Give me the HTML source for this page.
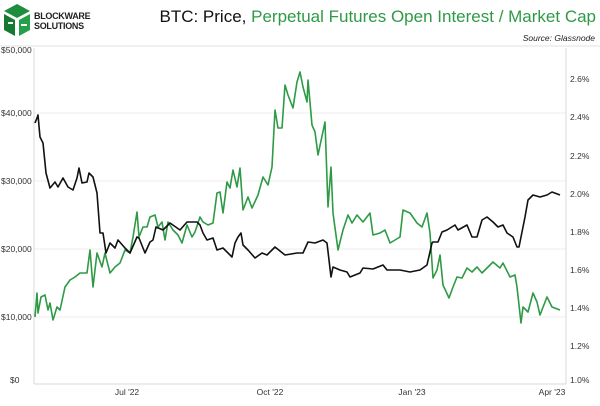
<!DOCTYPE html>
<html><head><style>
body{margin:0;width:600px;height:401px;background:#fff;overflow:hidden;font-family:"Liberation Sans",sans-serif}
</style></head><body>
<svg width="600" height="401" viewBox="0 0 600 401" xmlns="http://www.w3.org/2000/svg">
<g fill="#1e8e3e">
<polygon points="17,4 30,11 17,18 4,11"/>
<polygon points="4,14 15,20 15,36 4,30" fill="#157a31"/>
<polygon points="30,14 19,20 19,36 30,30" fill="#24a148"/>
</g>
<g fill="#fff"><rect x="8" y="22" width="5" height="2"/><rect x="21" y="24" width="6" height="2"/></g>
<text x="34" y="19" font-size="9" font-weight="bold" fill="#222" style="letter-spacing:-0.3px">BLOCKWARE</text>
<text x="34" y="29" font-size="9" font-weight="bold" fill="#222" style="letter-spacing:-0.3px">SOLUTIONS</text>
<text x="596" y="22" text-anchor="end" font-size="17" fill="#111">BTC: Price, <tspan fill="#2e9a46">Perpetual Futures Open Interest / Market Cap</tspan></text>
<text x="595" y="41" text-anchor="end" font-size="8.5" font-style="italic" fill="#222">Source: Glassnode</text>
<line x1="0" y1="46" x2="600" y2="46" stroke="#e2e2e2" stroke-width="1"/>
<g stroke="#ececec" stroke-width="1">
<line x1="34" y1="113" x2="566" y2="113"/><line x1="34" y1="181" x2="566" y2="181"/>
<line x1="34" y1="249" x2="566" y2="249"/><line x1="34" y1="317" x2="566" y2="317"/>
</g>
<line x1="34" y1="48" x2="34" y2="384" stroke="#d8d8d8"/>
<line x1="566" y1="48" x2="566" y2="384" stroke="#d8d8d8"/>
<line x1="34" y1="384" x2="566" y2="384" stroke="#d8d8d8"/>
<g font-size="8.5" fill="#333">
<text x="1" y="53">$50,000</text><text x="1" y="116">$40,000</text><text x="1" y="184">$30,000</text>
<text x="1" y="252">$20,000</text><text x="1" y="320">$10,000</text><text x="10" y="383">$0</text>
<text x="570" y="82">2.6%</text><text x="570" y="120">2.4%</text><text x="570" y="159">2.2%</text>
<text x="570" y="197">2.0%</text><text x="570" y="235">1.8%</text><text x="570" y="273">1.6%</text>
<text x="570" y="311">1.4%</text><text x="570" y="349">1.2%</text><text x="570" y="383">1.0%</text>
<text x="127" y="395" text-anchor="middle">Jul '22</text><text x="270" y="395" text-anchor="middle">Oct '22</text>
<text x="412" y="395" text-anchor="middle">Jan '23</text><text x="552" y="395" text-anchor="middle">Apr '23</text>
</g>
<polyline fill="none" stroke="#2e9a46" stroke-width="1.6" stroke-linejoin="round" points="35,317 37,293 38,313 41,297 45,295 48,310 50,303 53,320 57,307 60,310 65,287 70,280 75,277 80,273 87,273 90,250 93,287 97,253 102,267 105,253 110,273 115,267 120,263 125,250 130,253 133,237 137,212 139,237 143,227 147,227 150,217 155,215 158,227 162,222 165,240 168,222 173,230 178,235 182,243 187,225 192,237 195,232 200,217 203,222 208,225 213,223 217,193 220,192 223,213 227,182 230,188 233,170 237,187 240,168 243,210 248,197 252,208 258,195 263,177 268,185 272,167 275,110 278,128 282,128 285,85 288,95 293,108 297,82 300,72 303,87 307,102 308,80 312,125 315,132 318,155 325,122 328,207 331,167 333,213 338,250 343,230 348,215 352,223 357,215 363,222 370,213 373,235 380,233 385,230 390,243 395,240 400,237 403,210 410,213 417,223 422,227 427,213 430,233 433,278 437,270 440,255 443,285 449,298 453,287 457,277 462,278 467,268 472,272 477,267 482,273 488,267 493,262 500,268 503,263 510,277 515,275 517,287 521,323 523,307 528,312 533,293 537,302 540,315 547,297 552,307 560,310"/>
<polyline fill="none" stroke="#111" stroke-width="1.6" stroke-linejoin="round" points="35,123 37,118 38,115 40,137 43,143 46,173 50,188 55,182 58,187 63,178 68,187 73,190 77,178 79,168 82,183 87,182 89,173 93,177 97,193 100,233 103,233 106,253 110,243 115,248 118,240 125,248 130,253 137,237 139,238 145,253 150,242 153,240 156,227 163,230 170,223 180,230 187,222 197,222 200,225 203,233 207,240 213,238 217,250 223,248 232,257 235,243 238,237 241,233 243,245 248,250 255,258 262,253 267,255 275,247 285,255 297,253 303,253 308,242 315,243 323,240 327,243 331,277 333,267 340,270 347,272 350,277 360,273 363,268 373,269 383,265 387,270 393,270 400,270 410,272 420,270 427,265 432,243 433,242 438,242 442,232 447,230 455,225 458,230 467,225 472,237 477,237 482,220 487,217 493,222 498,227 503,225 507,233 513,237 517,247 519,247 523,227 525,217 528,200 533,195 540,197 547,195 552,192 560,195"/>
</svg>
</body></html>
